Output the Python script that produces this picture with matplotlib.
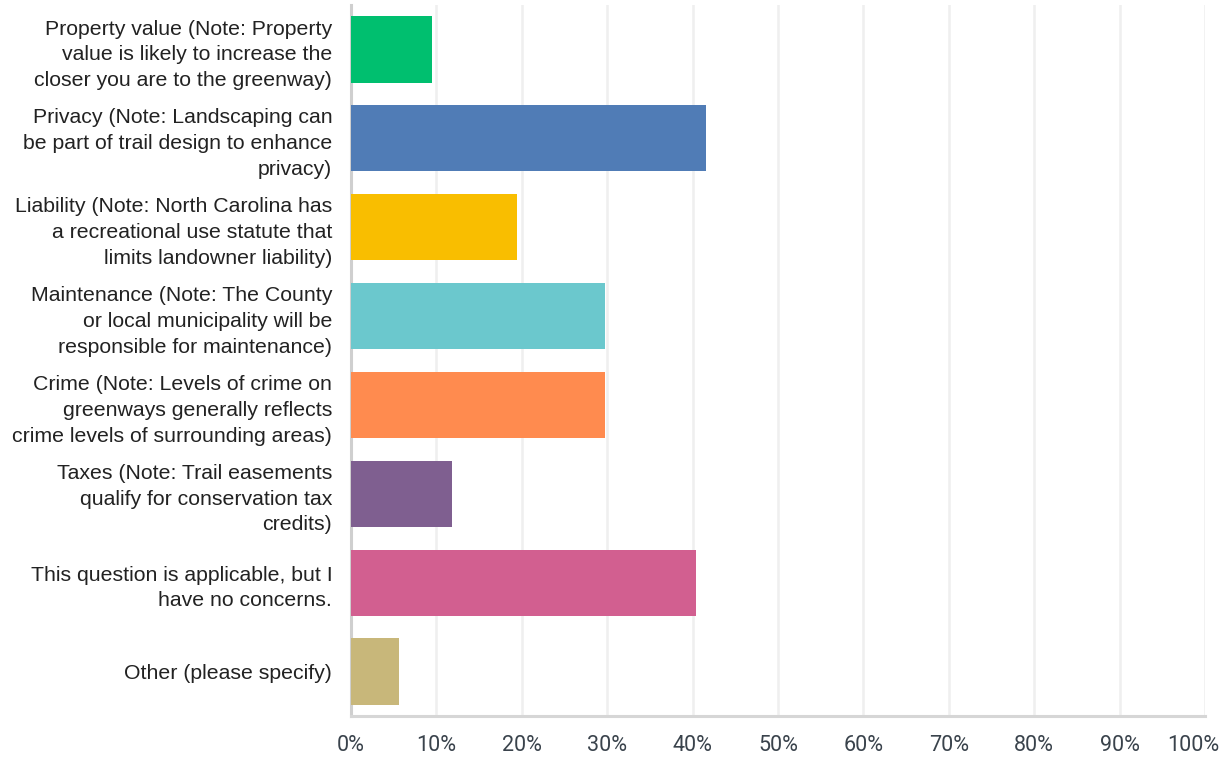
import matplotlib
matplotlib.use("Agg")
import matplotlib.pyplot as plt
from matplotlib.transforms import ScaledTranslation

categories = [
    "Property value (Note: Property\nvalue is likely to increase the\ncloser you are to the greenway)",
    "Privacy (Note: Landscaping can\nbe part of trail design to enhance\nprivacy)",
    "Liability (Note: North Carolina has\na recreational use statute that\nlimits landowner liability)",
    "Maintenance (Note: The County\nor local municipality will be\nresponsible for maintenance)",
    "Crime (Note: Levels of crime on\ngreenways generally reflects\ncrime levels of surrounding areas)",
    "Taxes (Note: Trail easements\nqualify for conservation tax\ncredits)",
    "This question is applicable, but I\nhave no concerns.",
    "Other (please specify)",
]
percent = [9.5, 41.6, 19.4, 29.7, 29.7, 11.8, 40.4, 5.6]
colors = ["#00bf6f", "#507cb6", "#f9be00", "#6bc8cd",
          "#ff8b4f", "#7f5f90", "#d25f90", "#c8b77a"]
x_ticks = [0, 10, 20, 30, 40, 50, 60, 70, 80, 90, 100]
x_tick_labels = [f"{t}%" for t in x_ticks]

fig = plt.figure(figsize=(12.25, 7.58), dpi=100)
ax = fig.add_axes([351 / 1225, 42 / 758, 854 / 1225, 711 / 758])

ypos = list(range(len(categories)))
ax.barh(ypos, percent, height=0.745, color=colors, zorder=3)

ax.set_xlim(0, 100)
ax.set_ylim(len(categories) - 0.5, -0.5)

ax.set_xticks(x_ticks)
ax.set_xticklabels(x_tick_labels, fontsize=15.5, color="#3a434c",
                   family=["Roboto", "DejaVu Sans"])
ax.set_yticks(ypos)
ax.set_yticklabels(categories, fontsize=15.3, color="#222222",
                   family=["Liberation Sans", "DejaVu Sans"],
                   linespacing=1.45)
ax.tick_params(axis="y", length=0, pad=13.5)
ax.tick_params(axis="x", length=0, pad=14)

# keep the last percentage label inside the canvas
last = ax.get_xticklabels()[-1]
last.set_transform(last.get_transform() +
                   ScaledTranslation(-12 / 100, 0, fig.dpi_scale_trans))

ax.grid(axis="x", color="#efefef", linewidth=1.8, zorder=0)
ax.grid(axis="y", visible=False)
for side in ("top", "right"):
    ax.spines[side].set_visible(False)
ax.spines["left"].set_color("#cfcfcf")
ax.spines["left"].set_linewidth(2.2)
ax.spines["bottom"].set_color("#d6d6d6")
ax.spines["bottom"].set_linewidth(2.2)

fig.savefig("out.png", dpi=100, facecolor="white")
